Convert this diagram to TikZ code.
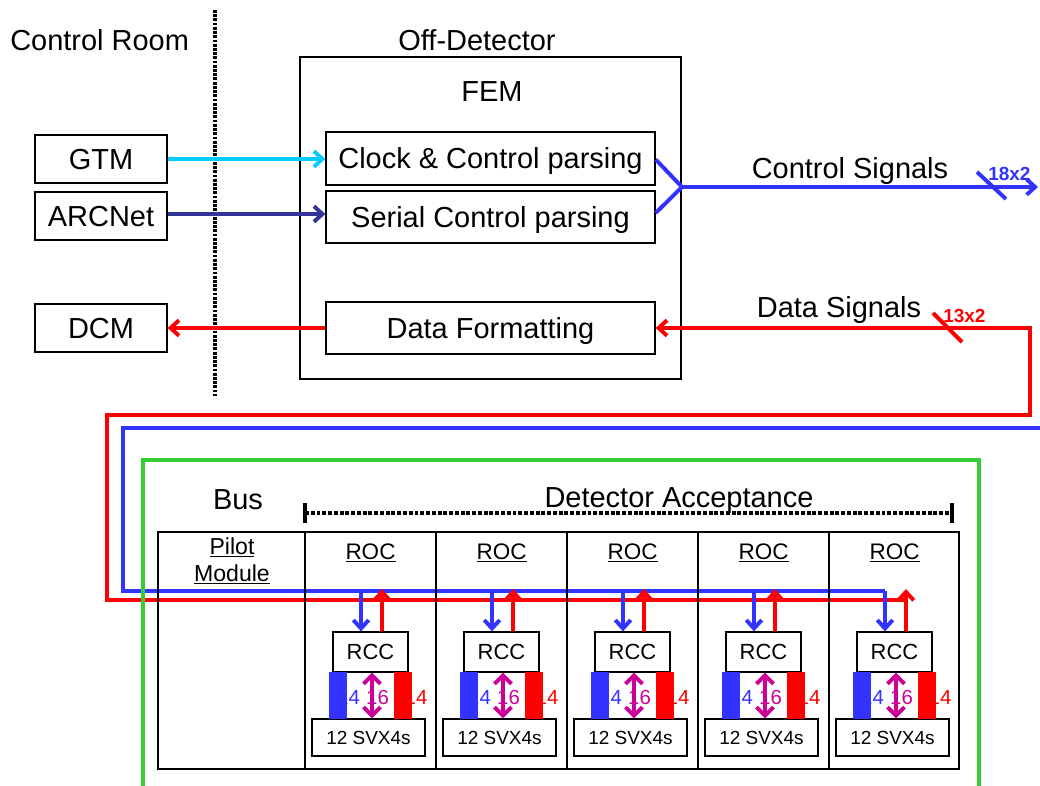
\documentclass[tikz,border=0pt]{standalone}
\usepackage{fontspec}
\setmainfont{Liberation Sans}
\definecolor{sigcyan}{RGB}{0,204,255}
\definecolor{signavy}{RGB}{51,51,153}
\definecolor{sigblue}{RGB}{51,51,255}
\definecolor{sigred}{RGB}{255,0,0}
\definecolor{busgreen}{RGB}{51,204,51}
\definecolor{sigmag}{RGB}{204,0,153}
\usetikzlibrary{arrows.meta,calc}

\begin{document}
\begin{tikzpicture}[x=0.025cm,y=-0.025cm,
  every node/.style={text depth=0pt},
  blk/.style={draw,line width=0.9pt,inner sep=0pt,text height=14.75pt,font=\fontsize{20.6}{24}\selectfont},
  lbl/.style={inner sep=0pt,text height=14.75pt,font=\fontsize{20.6}{24}\selectfont},
  sm/.style={draw,line width=0.9pt,inner sep=0pt},
  wire/.style={line width=2.8pt},
  arr/.style={wire,-{Straight Barb[length=6pt,width=11pt]}},
  num/.style={inner sep=0pt,text height=10.4pt,font=\fontsize{14.5}{16}\selectfont},
  tag/.style={inner sep=0pt,text height=9.7pt,font=\fontsize{13.5}{14}\selectfont\bfseries},
  sep/.style={line width=2.4pt,dash pattern=on 2pt off 1pt}
]
\useasboundingbox (0,0) rectangle (1040,786);
% Headings
\node[lbl,anchor=west] (ctrlroom) at (10,40) {Control Room};
\node[lbl] (offdet) at (477,40) {Off-Detector};
\draw[sep] (215,10) -- (215,396);
% Control room boxes
\node[blk,minimum width=3.3cm,minimum height=1.2cm] (gtm) at (101,159) {GTM};
\node[blk,minimum width=3.3cm,minimum height=1.2cm] (arc) at (101,216) {ARCNet};
\node[blk,minimum width=3.3cm,minimum height=1.2cm] (dcm) at (101,328) {DCM};
% FEM
\node[sm,minimum width=9.525cm,minimum height=8.05cm] (fem) at (490.5,218) {};
\node[lbl] (femlbl) at (492,91) {FEM};
\node[blk,minimum width=8.225cm,minimum height=1.325cm] (clk) at (490.5,158.5) {Clock \& Control parsing};
\node[blk,minimum width=8.225cm,minimum height=1.3cm] (ser) at (490.5,217) {Serial Control parsing};
\node[blk,minimum width=8.225cm,minimum height=1.3cm] (fmt) at (490.5,328) {Data Formatting};
% Inputs / outputs
\draw[arr,sigcyan] (gtm.east) -- (gtm.east -| clk.west);
\draw[arr,signavy] ([yshift=0.05cm]arc.east) -- ([yshift=0.05cm]arc.east -| ser.west);
\draw[arr,sigred] (fmt.west) -- (fmt.west -| dcm.east);
% Control signals
\coordinate (fork) at (682,187);
\coordinate (ctrlout) at (1038,187);
\draw[wire,sigblue,line join=miter] ($(clk.east)+(0,1)$) -- (fork) -- ($(ser.east)+(0,-4)$);
\draw[arr,sigblue] (fork) -- (ctrlout);
\node[lbl] (ctrllbl) at (850,168) {Control Signals};
\draw[wire,sigblue] (977,172) -- (1006,199);
\node[tag,sigblue,anchor=west] (ctrlnum) at (988,174) {18x2};
% Data signals
\node[lbl] (datalbl) at (839,307) {Data Signals};
\draw[wire,sigred] (933,313) -- (962,342);
\node[tag,sigred,anchor=west] (datanum) at (943,316) {13x2};
\draw[arr,sigred] (906,600) -- (107,600) -- (107,415) -- (1030,415) -- (1030,328) -- (fmt.east);
\draw[wire,sigblue] (1040,428) -- (123,428) -- (123,591) -- (885,591);
% Bus
\draw[line width=2.2pt,busgreen] (143,786) -- (143,460) -- (979,460) -- (979,786);
\node[lbl] (bus) at (238,499) {Bus};
\node[lbl] (accept) at (679,497) {Detector Acceptance};
\draw[line width=2.3pt,dash pattern=on 2.8pt off 1.3pt] (305,513) -- (952,513);
\draw[line width=3.2pt] (305,503) -- (305,523) (952,503) -- (952,523);
\draw[line width=0.9pt] (158,532) rectangle (959,769);
\foreach \x in {305,436,567,698,829} \draw[line width=0.9pt] (\x,532) -- (\x,769);
\node[inner sep=0pt,text height=11.7pt,font=\fontsize{16.4}{18}\selectfont] (pilot) at (232,546) {\underline{Pilot}};
\node[inner sep=0pt,text height=11.7pt,font=\fontsize{16.4}{18}\selectfont] (module) at (232,573) {\underline{Module}};
% Modules
\foreach \i/\cx in {1/370.5,2/501.5,3/632.5,4/763.5,5/894.5}{
  \node[inner sep=0pt,text height=11.5pt,font=\fontsize{16}{18}\selectfont] (roc\i) at (\cx,551) {\underline{ROC}};
  \node[sm,minimum width=1.875cm,minimum height=1cm,text height=11.2pt,font=\fontsize{15.6}{18}\selectfont] (rcc\i) at (\cx,652) {RCC};
  \node[sm,minimum width=2.825cm,minimum height=0.925cm,text height=9.7pt,font=\fontsize{13.5}{16}\selectfont] (svx\i) at (\cx-2,737.5) {12 SVX4s};
  \node[num,sigblue] (nb\i) at (\cx-22,697) {14};
  \node[num,sigmag] (nm\i) at (\cx+7,697) {16};
  \node[num,sigred] (nr\i) at (\cx+45.5,697) {14};
  \fill[sigblue] (\cx-41.5,672) rectangle (\cx-23.5,719);
  \fill[sigred] (\cx+23.5,672) rectangle (\cx+41.5,719);
  \draw[wire,sigmag,{Straight Barb[length=6pt,width=12pt]}-{Straight Barb[length=6pt,width=12pt]}] ($(rcc\i.south)+(1.5,0)$) -- ($(rcc\i.south |- svx\i.north)+(1.5,0)$);
  \draw[arr,sigblue] (\cx-9.5,591) -- ($(rcc\i.north)+(-9.5,0)$);
  \draw[arr,sigred] ($(rcc\i.north)+(11.5,0)$) -- (\cx+11.5,589);
}
\end{tikzpicture}
\end{document}
